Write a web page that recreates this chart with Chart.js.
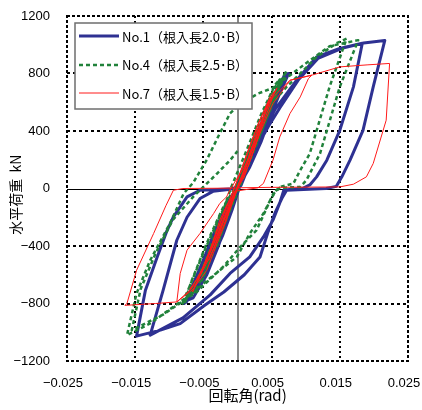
<!DOCTYPE html>
<html><head><meta charset="utf-8">
<script src="https://cdn.jsdelivr.net/npm/chart.js@4.4.1/dist/chart.umd.min.js"></script>
<style>html,body{margin:0;padding:0;background:#fff;}</style>
</head><body>
<canvas id="c" width="422" height="410"></canvas>
<script>
// ---- data ----
const xTicks = [-0.025, -0.015, -0.005, 0.005, 0.015, 0.025];
const xTickLabels = ['−0.025', '−0.015', '−0.005', '0.005', '0.015', '0.025'];
const yTicks = [-1200, -800, -400, 0, 400, 800, 1200];
const yTickLabels = ['−1200', '−800', '−400', '0', '400', '800', '1200'];
const seriesNames = ['No.1（根入長2.0･B）', 'No.4（根入長2.5･B）', 'No.7（根入長1.5･B）'];

const no1X = [0,0.0012,0.0025,0.0018,0.0003,-0.0012,-0.0026,-0.0018,-0.0002,
 0.0015,0.003,0.0043,0.0032,0.0012,-0.0008,-0.0028,-0.0045,-0.0032,-0.0012,
 0.001,0.003,0.0048,0.0062,0.005,0.0025,0,-0.0025,-0.005,-0.0075,-0.0062,-0.0038,-0.0015,0,
 0.0018,0.0035,0.005,0.0066,0.0058,0.004,0.0022,0.0008,-0.0008,-0.0025,-0.0045,-0.0068,-0.0058,-0.004,-0.0022,-0.0008,0.0005,
 0.002,0.004,0.006,0.0075,0.0068,0.005,0.003,0.001,-0.001,-0.003,-0.0055,-0.0075,-0.0065,-0.0045,-0.0028,-0.0012,0,
 0.0018,0.0036,0.0052,0.0068,0.0074,0.0062,0.0042,0.002,-0.0005,-0.003,-0.0055,-0.0078,-0.007,-0.0052,-0.003,-0.001,0,
 0.002,0.004,0.0055,0.0087,0.0116,0.015,0.0183,
 0.017,0.015,0.0131,0.0116,0.0106,0.0095,0.0068,
 0.0062,0.0052,0.0038,0.0018,-0.0011,-0.004,-0.008,-0.0128,
 -0.0109,-0.0089,-0.0074,-0.0055,-0.0036,-0.001,0.0005,
 0.0025,0.0045,0.0062,0.009,0.0118,0.0153,0.0185,0.0216,
 0.0199,0.0184,0.0165,0.0153,0.0145,0.013,0.0072,
 0.0066,0.0055,0.0045,0.0033,0.001,-0.002,-0.0048,-0.0084,-0.0113,-0.0148,
 -0.0135,-0.0118,-0.0104,-0.0094,-0.0074,-0.0055,-0.002,0];
const no1Y = [0,160,320,220,20,-150,-320,-200,-10,
 190,380,530,390,130,-90,-330,-540,-380,-120,
 110,360,570,700,580,290,0,-300,-590,-790,-640,-380,-120,0,
 150,330,520,720,660,480,300,120,-60,-250,-480,-720,-680,-520,-330,-150,40,
 180,400,640,800,780,620,400,150,-100,-350,-600,-780,-760,-600,-400,-180,0,
 200,420,600,760,800,690,470,220,-60,-360,-620,-800,-720,-520,-260,-60,0,
 230,420,550,755,915,975,1010,
 707,405,197,81,25,0,-10,
 -100,-220,-337,-476,-591,-740,-900,-1020,
 -707,-360,-200,-70,-20,-5,20,
 260,430,560,760,905,975,1012,1030,
 707,405,197,81,15,0,-12,
 -60,-170,-300,-476,-600,-720,-812,-940,-985,-1027,
 -707,-480,-300,-198,-58,-12,-5,0];

const no4X = [0,0.0015,0.003,0.002,0,-0.0015,-0.003,-0.002,0,
 0.002,0.0038,0.0052,0.004,0.0015,-0.001,-0.003,-0.0052,-0.004,-0.0015,0.0005,
 0.0025,0.0045,0.0068,0.0058,0.003,0,-0.003,-0.0058,-0.0078,-0.0068,-0.0045,-0.002,0,
 0.0012,0.003,0.0048,0.0062,0.0055,0.0035,0.0012,-0.001,-0.0028,-0.0048,-0.0068,-0.006,-0.0038,-0.0018,0,
 0.0022,0.0042,0.006,0.0072,0.0064,0.0042,0.0015,-0.0015,-0.004,-0.0065,-0.0082,-0.0072,-0.005,-0.0025,0,
 0.002,0.0045,0.0072,0.0087,0.0116,0.0145,0.016,
 0.0135,0.0106,0.0092,0.0082,0.0062,0.0057,0.0048,0.0038,0.0018,-0.0001,-0.0026,-0.0074,-0.0128,-0.0162,
 -0.0148,-0.0128,-0.0099,-0.0079,-0.0065,-0.0045,-0.0026,-0.0011,0.0004,0.003,0.0052,0.0075,0.01,0.0135,0.0177,
 0.015,0.0121,0.0101,0.0092,0.0062,0.0052,0.0028,0.0004,-0.002,-0.006,-0.011,-0.0155,
 -0.0142,-0.012,-0.0095,-0.0065,-0.005,-0.003,-0.0011,0];
const no4Y = [0,200,400,260,0,-200,-400,-260,0,
 260,480,640,500,200,-130,-380,-640,-480,-160,70,
 320,560,770,660,340,20,-330,-620,-800,-650,-380,-120,30,
 200,430,640,760,720,520,250,0,-250,-520,-740,-700,-470,-230,0,
 280,520,720,820,740,480,150,-200,-480,-700,-810,-700,-450,-180,0,
 300,560,707,776,915,1010,1043,
 707,243,127,35,11,-12,-81,-174,-313,-476,-569,-754,-939,-1020,
 -729,-499,-243,-35,40,200,383,522,590,660,700,780,870,990,1032,
 707,243,58,11,5,-40,-290,-406,-540,-720,-880,-985,
 -700,-450,-220,-58,11,104,196,260];

const no7X = [0,0.001,0.0022,0.0015,0,-0.001,-0.002,-0.0013,0,
 0.0015,0.003,0.0038,0.003,0.0012,-0.0005,-0.002,-0.0035,-0.0042,-0.0032,-0.0012,0,
 0.002,0.0035,0.005,0.0045,0.0032,0.0018,0,-0.001,-0.0026,-0.0045,-0.006,-0.0055,-0.004,-0.0016,0,
 0.001,0.0025,0.004,0.0055,0.0048,0.0028,0.001,-0.0005,-0.002,-0.0038,-0.0055,-0.007,-0.006,-0.0035,-0.0015,0,
 0.0012,0.0028,0.0042,0.0058,0.0052,0.0036,0.0016,-0.0008,-0.0024,-0.004,-0.0058,-0.0066,-0.0048,-0.0028,-0.001,0,
 0.0015,0.003,0.0045,0.0052,0.0077,0.0109,
 0.0104,0.0092,0.0077,0.0062,0.0052,0.0038,0.003,
 -0.0005,-0.0016,-0.003,-0.0045,-0.0065,-0.0089,
 -0.0084,-0.0074,-0.0055,-0.0035,-0.0026,-0.0016,-0.001,
 0.001,0.003,0.0045,0.0077,0.011,0.015,0.019,0.0223,
 0.0218,0.0199,0.0189,0.017,0.015,0.005,0,
 -0.002,-0.0045,-0.0068,-0.0089,-0.012,-0.0165,
 -0.0162,-0.0148,-0.0123,-0.0105,-0.0094,-0.008,0];
const no7Y = [0,120,300,200,10,-100,-260,-170,0,
 180,400,500,420,150,-40,-220,-420,-500,-380,-120,0,
 250,450,640,600,470,300,60,-60,-220,-500,-640,-600,-420,-120,0,
 80,280,520,680,640,420,180,0,-180,-400,-600,-700,-660,-420,-200,0,
 140,360,560,700,640,430,160,-90,-260,-440,-640,-720,-520,-300,-80,0,
 150,350,520,591,753,788,
 765,637,522,359,197,35,5,
 -20,-220,-383,-569,-700,-789,
 -591,-429,-313,-174,-104,-58,0,
 150,350,600,753,790,846,860,870,
 475,174,81,30,11,8,5,
 -220,-500,-700,-789,-800,-813,
 -798,-569,-313,-120,-12,0,3];

function pts(xs, ys) {
  const n = Math.min(xs.length, ys.length);
  const out = [];
  for (let i = 0; i < n; i++) out.push({x: xs[i], y: ys[i]});
  return out;
}

const CJK = '"Noto Sans CJK JP", "Noto Sans", sans-serif';
const NUM = '"Liberation Sans", Arial, sans-serif';

const excelPlugin = {
  id: 'excelLook',
  beforeDatasetsDraw(chart) {
    const {ctx, chartArea: a, scales: {x, y}} = chart;
    ctx.save();
    ctx.strokeStyle = '#000';
    ctx.lineWidth = 2;
    ctx.setLineDash([2, 3]);
    x.ticks.forEach(t => {
      if (t.value > x.min && t.value < x.max) {
        const px = Math.round(x.getPixelForValue(t.value));
        ctx.beginPath(); ctx.moveTo(px, a.top); ctx.lineTo(px, a.bottom); ctx.stroke();
      }
    });
    ctx.setLineDash([3, 3]);
    y.ticks.forEach(t => {
      if (t.value > y.min && t.value < y.max && t.value !== 0) {
        const py = Math.round(y.getPixelForValue(t.value));
        ctx.beginPath(); ctx.moveTo(a.left, py); ctx.lineTo(a.right, py); ctx.stroke();
      }
    });
    ctx.setLineDash([]);
    const x0 = Math.round(x.getPixelForValue(0));
    ctx.strokeStyle = '#8a8a8a'; ctx.lineWidth = 2;
    ctx.beginPath(); ctx.moveTo(x0, a.top); ctx.lineTo(x0, a.bottom); ctx.stroke();
    const y0 = Math.round(y.getPixelForValue(0)) + 0.5;
    ctx.strokeStyle = '#000'; ctx.lineWidth = 1;
    ctx.beginPath(); ctx.moveTo(a.left, y0); ctx.lineTo(a.right, y0); ctx.stroke();
    ctx.restore();
  },
  afterDatasetsDraw(chart) {
    const {ctx, chartArea: a} = chart;
    ctx.save();
    ctx.strokeStyle = '#000';
    ctx.lineWidth = 2;
    ctx.setLineDash([3, 2]);
    ctx.strokeRect(a.left, a.top, a.right - a.left, a.bottom - a.top);
    ctx.restore();
  },
  afterDraw(chart) {
    const {ctx, chartArea: a} = chart;
    const bx = a.left + 8, by = a.top + 7, bw = 177, bh = 86;
    ctx.save();
    ctx.fillStyle = '#fff';
    ctx.fillRect(bx, by, bw, bh);
    ctx.strokeStyle = '#6e6e6e';
    ctx.lineWidth = 1.5;
    ctx.strokeRect(bx, by, bw, bh);
    chart.data.datasets.forEach((ds, i) => {
      const ly = by + 13 + i * 28.5;
      ctx.strokeStyle = ds.borderColor;
      ctx.lineWidth = ds.borderWidth;
      ctx.setLineDash(ds.borderDash || []);
      ctx.beginPath(); ctx.moveTo(bx + 4, Math.round(ly)); ctx.lineTo(bx + 44, Math.round(ly)); ctx.stroke();
      ctx.setLineDash([]);
      ctx.fillStyle = '#000';
      ctx.font = '13px ' + CJK;
      ctx.textBaseline = 'middle';
      ctx.textAlign = 'left';
      ctx.fillText(ds.label, bx + 47, ly + 1);
    });
    ctx.restore();
  }
};

new Chart(document.getElementById('c'), {
  type: 'scatter',
  data: {
    datasets: [
      {label: seriesNames[0], data: pts(no1X, no1Y), showLine: true, borderColor: '#2e3192', borderWidth: 3,
       pointRadius: 0, tension: 0, borderJoinStyle: 'round', borderCapStyle: 'round', order: 3},
      {label: seriesNames[1], data: pts(no4X, no4Y), showLine: true, borderColor: '#21823b', borderWidth: 2.5,
       borderDash: [4, 3], pointRadius: 0, tension: 0, borderJoinStyle: 'round', order: 2},
      {label: seriesNames[2], data: pts(no7X, no7Y), showLine: true, borderColor: '#ff1a1a', borderWidth: 1,
       pointRadius: 0, tension: 0, borderJoinStyle: 'round', order: 1}
    ]
  },
  options: {
    responsive: false,
    animation: false,
    layout: {padding: {top: 16, right: 14, left: 0, bottom: 0}},
    plugins: {legend: {display: false}, tooltip: {enabled: false}},
    scales: {
      x: {
        type: 'linear', min: -0.025, max: 0.025,
        afterBuildTicks: s => { s.ticks = xTicks.map(v => ({value: v})); },
        afterFit: s => { s.height = 49; s.paddingLeft = 0; s.paddingRight = 0; },
        grid: {display: false, drawTicks: false},
        border: {display: false},
        ticks: {padding: 15, labelOffset: -4, color: '#000', font: {family: NUM, size: 13},
          callback: (v) => xTickLabels[xTicks.indexOf(v)] ?? ''},
        title: {display: true, text: '      回転角(rad)', color: '#000',
          font: {family: CJK, size: 15}, padding: {top: 0, bottom: 6}}
      },
      y: {
        type: 'linear', min: -1200, max: 1200,
        afterBuildTicks: s => { s.ticks = yTicks.map(v => ({value: v})); },
        afterFit: s => { s.width = 67; s.paddingTop = 0; s.paddingBottom = 0; },
        grid: {display: false, drawTicks: false},
        border: {display: false},
        ticks: {padding: 17, color: '#000', font: {family: NUM, size: 13},
          callback: (v) => yTickLabels[yTicks.indexOf(v)] ?? ''},
        title: {display: true, text: '水平荷重  kN    ', color: '#000',
          font: {family: CJK, size: 14}, padding: {top: 7, bottom: 0}}
      }
    }
  },
  plugins: [excelPlugin]
});
</script>
</body></html>
